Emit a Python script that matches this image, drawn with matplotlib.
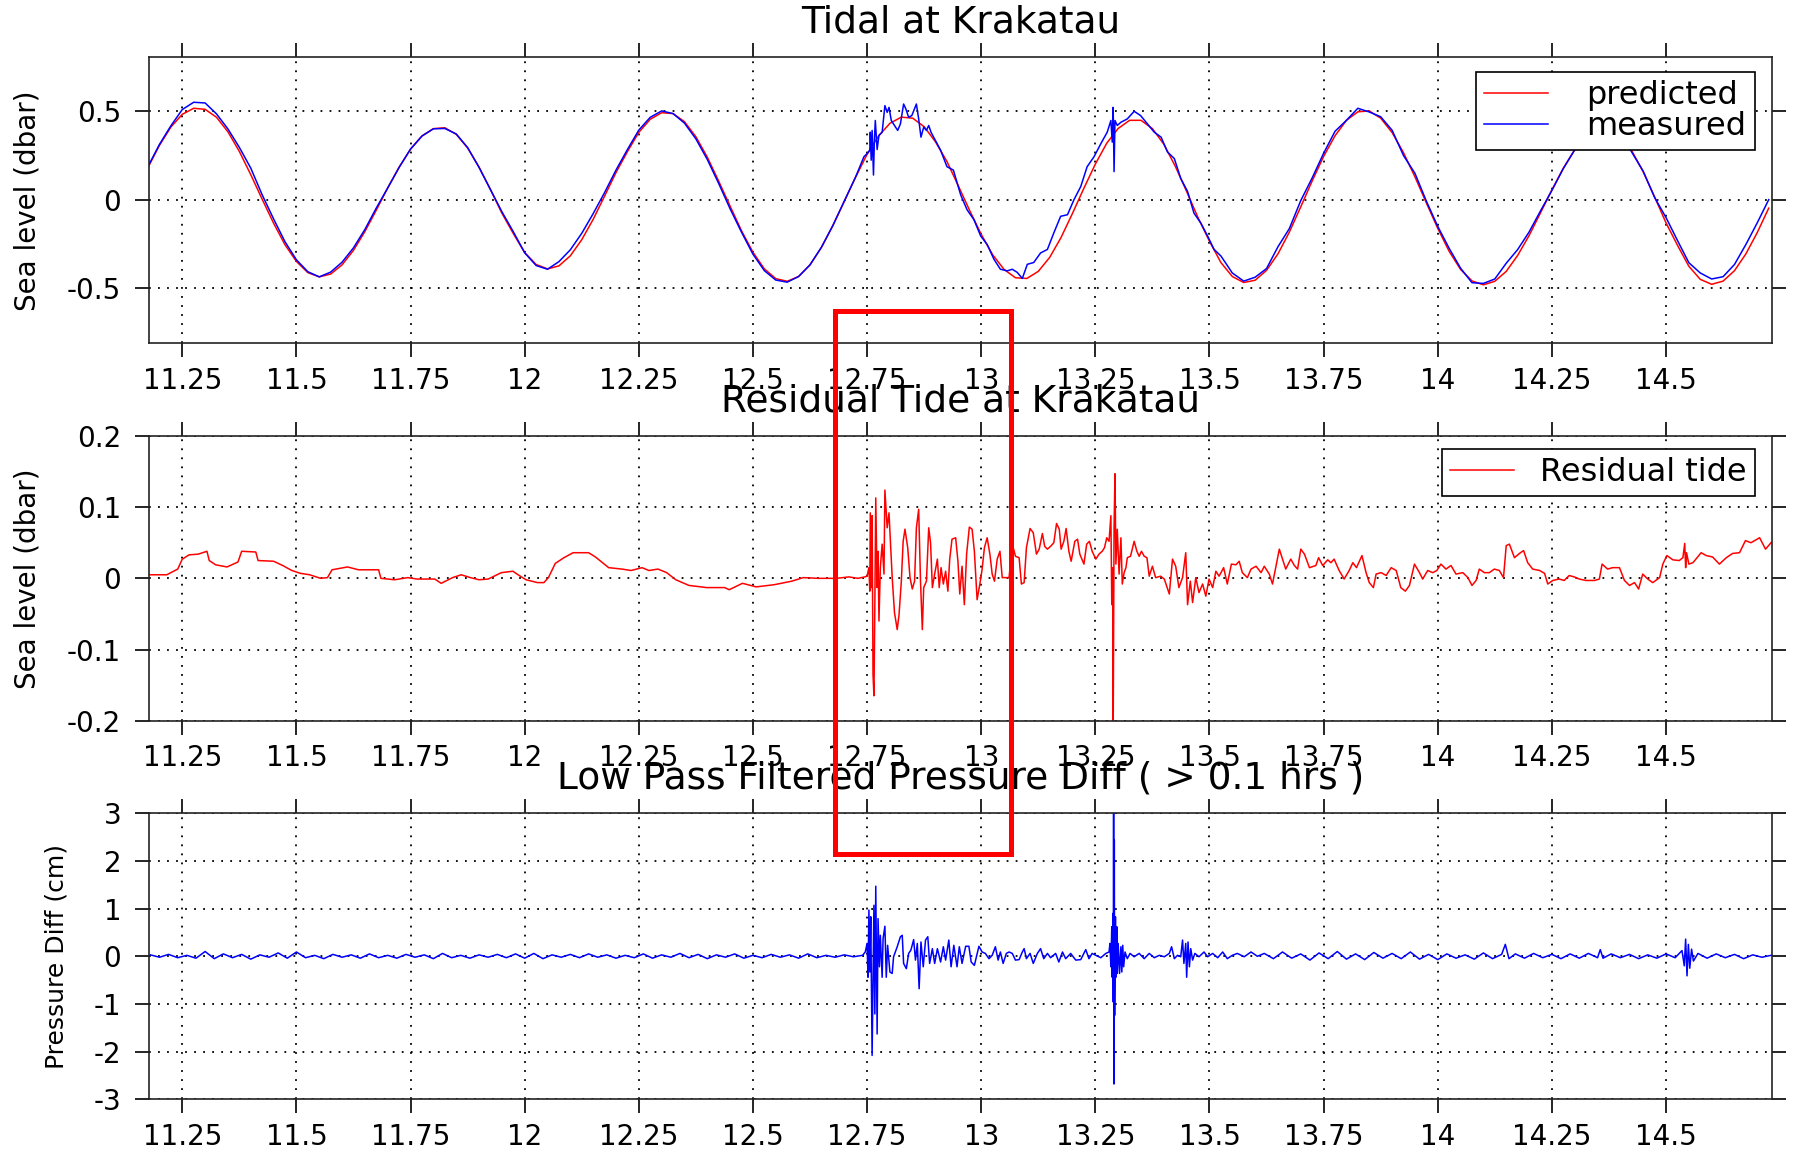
import numpy as np
import matplotlib.pyplot as plt
from matplotlib.patches import Rectangle
from matplotlib.ticker import FixedLocator, FuncFormatter

plt.rcParams['font.family'] = ['DejaVu Sans']
plt.rcParams['axes.unicode_minus'] = False

# ---- Tidal at Krakatau (days, dbar)
# predicted tide, regular 0.025 day grid starting at 11.175
pred_start, pred_step = 11.175, 0.025
pred_v = [0.184, 0.308, 0.411, 0.483, 0.517, 0.511, 0.466, 0.384, 0.273, 0.142,
          0.003, -0.132, -0.254, -0.348, -0.411, -0.435, -0.419, -0.367, -0.285, -0.179,
          -0.058, 0.068, 0.185, 0.286, 0.361, 0.402, 0.407, 0.370, 0.293, 0.185,
          0.058, -0.075, -0.190, -0.298, -0.365, -0.390, -0.373, -0.316, -0.225, -0.110,
          0.021, 0.154, 0.272, 0.381, 0.455, 0.492, 0.487, 0.441, 0.356, 0.241,
          0.105, -0.036, -0.175, -0.296, -0.390, -0.445, -0.460, -0.433, -0.367, -0.268,
          -0.146, -0.009, 0.129, 0.257, 0.360, 0.432, 0.467, 0.461, 0.413, 0.327,
          0.216, 0.078, -0.062, -0.195, -0.310, -0.393, -0.440, -0.444, -0.404, -0.325,
          -0.212, -0.076, 0.066, 0.202, 0.320, 0.403, 0.449, 0.449, 0.402, 0.314,
          0.190, 0.047, -0.101, -0.234, -0.354, -0.433, -0.467, -0.454, -0.398, -0.305,
          -0.182, -0.039, 0.107, 0.245, 0.362, 0.449, 0.497, 0.502, 0.461, 0.380,
          0.266, 0.130, -0.017, -0.161, -0.291, -0.393, -0.458, -0.480, -0.460, -0.404,
          -0.314, -0.202, -0.074, 0.056, 0.179, 0.283, 0.361, 0.403, 0.406, 0.363,
          0.277, 0.158, 0.017, -0.130, -0.256, -0.375, -0.449, -0.477, -0.459, -0.400,
          -0.305, -0.184, -0.047]

# measured tide: same grid before 12.74, dense during the events, grid again from 13.55
meas_a_start = 11.175
meas_a_v = [0.189, 0.313, 0.418, 0.510, 0.551, 0.547, 0.485, 0.400, 0.296, 0.179,
            0.028, -0.108, -0.237, -0.339, -0.406, -0.435, -0.408, -0.352, -0.271, -0.167,
            -0.046, 0.067, 0.183, 0.287, 0.360, 0.401, 0.403, 0.372, 0.295, 0.183,
            0.058, -0.067, -0.180, -0.299, -0.371, -0.392, -0.349, -0.282, -0.189, -0.078,
            0.041, 0.168, 0.284, 0.394, 0.466, 0.502, 0.487, 0.433, 0.344, 0.228,
            0.092, -0.051, -0.183, -0.307, -0.400, -0.453, -0.465, -0.433, -0.367, -0.268,
            -0.145, -0.008, 0.130]
meas_b_t = [12.743, 12.750, 12.756, 12.757, 12.759, 12.761, 12.764, 12.766, 12.768, 12.772,
            12.776, 12.783, 12.789, 12.794, 12.798, 12.803, 12.810, 12.817, 12.823, 12.830,
            12.835, 12.841, 12.848, 12.858, 12.863, 12.868, 12.874, 12.880, 12.885, 12.890,
            12.911, 12.925, 12.939, 12.955, 12.969, 12.984, 12.999, 13.013, 13.028, 13.042,
            13.057, 13.068, 13.079, 13.090, 13.101, 13.115, 13.130, 13.145, 13.159, 13.174,
            13.189, 13.203, 13.218, 13.232, 13.247, 13.262, 13.276, 13.284, 13.287, 13.289,
            13.291, 13.293, 13.298, 13.306, 13.320, 13.335, 13.349, 13.364, 13.379, 13.394,
            13.408, 13.423, 13.437, 13.452, 13.466, 13.481, 13.496, 13.510, 13.525]
meas_b_v = [0.243, 0.261, 0.280, 0.382, 0.224, 0.392, 0.140, 0.336, 0.448, 0.284,
            0.364, 0.382, 0.532, 0.494, 0.522, 0.448, 0.420, 0.392, 0.429, 0.541,
            0.513, 0.466, 0.476, 0.541, 0.457, 0.354, 0.410, 0.392, 0.420, 0.382,
            0.280, 0.187, 0.168, 0.028, -0.056, -0.112, -0.205, -0.252, -0.336, -0.392,
            -0.401, -0.392, -0.410, -0.444, -0.364, -0.354, -0.300, -0.280, -0.187, -0.093,
            -0.084, 0.000, 0.075, 0.187, 0.243, 0.317, 0.382, 0.448, 0.326, 0.522,
            0.159, 0.448, 0.420, 0.438, 0.457, 0.500, 0.476, 0.429, 0.382, 0.354,
            0.270, 0.233, 0.121, 0.047, -0.075, -0.131, -0.205, -0.280, -0.317]
meas_c_start = 13.55
meas_c_v = [-0.413, -0.459, -0.437, -0.388, -0.265, -0.162, -0.004, 0.124, 0.263, 0.387,
            0.449, 0.517, 0.496, 0.469, 0.393, 0.250, 0.150, -0.007, -0.150, -0.274,
            -0.386, -0.468, -0.472, -0.447, -0.358, -0.281, -0.182, -0.063, 0.053, 0.176,
            0.282, 0.358, 0.401, 0.419, 0.378, 0.269, 0.162, 0.013, -0.100, -0.229,
            -0.355, -0.413, -0.447, -0.434, -0.365, -0.252, -0.129, 0.001]

# ---- Residual tide (dbar)
resid_t = [11.177, 11.216, 11.240, 11.250, 11.265, 11.285, 11.304, 11.309, 11.323, 11.348,
           11.372, 11.380, 11.411, 11.416, 11.450, 11.470, 11.490, 11.509, 11.529, 11.553,
           11.568, 11.578, 11.612, 11.636, 11.680, 11.685, 11.715, 11.744, 11.764, 11.803,
           11.817, 11.842, 11.861, 11.881, 11.900, 11.920, 11.949, 11.974, 11.988, 12.003,
           12.028, 12.042, 12.052, 12.067, 12.086, 12.106, 12.140, 12.155, 12.184, 12.213,
           12.233, 12.257, 12.272, 12.292, 12.311, 12.331, 12.360, 12.399, 12.438, 12.448,
           12.477, 12.507, 12.546, 12.585, 12.610, 12.644, 12.683, 12.710, 12.730, 12.745,
           12.750, 12.754, 12.756, 12.757, 12.760, 12.761, 12.763, 12.765, 12.767, 12.769,
           12.772, 12.774, 12.776, 12.779, 12.783, 12.787, 12.789, 12.794, 12.798, 12.801,
           12.805, 12.810, 12.816, 12.820, 12.825, 12.829, 12.833, 12.839, 12.844, 12.849,
           12.854, 12.858, 12.863, 12.867, 12.871, 12.874, 12.880, 12.885, 12.889, 12.893,
           12.898, 12.904, 12.908, 12.912, 12.917, 12.922, 12.927, 12.931, 12.936, 12.944,
           12.949, 12.953, 12.958, 12.963, 12.968, 12.974, 12.980, 12.985, 12.991, 12.997,
           13.002, 13.007, 13.013, 13.019, 13.024, 13.029, 13.035, 13.041, 13.046, 13.053,
           13.061, 13.068, 13.075, 13.083, 13.088, 13.094, 13.099, 13.107, 13.114, 13.121,
           13.127, 13.134, 13.139, 13.145, 13.152, 13.159, 13.165, 13.171, 13.175, 13.181,
           13.186, 13.192, 13.197, 13.205, 13.211, 13.216, 13.225, 13.231, 13.237, 13.243,
           13.251, 13.258, 13.265, 13.270, 13.275, 13.280, 13.284, 13.286, 13.288, 13.289,
           13.291, 13.293, 13.295, 13.298, 13.302, 13.306, 13.309, 13.313, 13.317, 13.320,
           13.327, 13.335, 13.341, 13.346, 13.351, 13.357, 13.363, 13.368, 13.375, 13.382,
           13.393, 13.401, 13.412, 13.419, 13.426, 13.433, 13.441, 13.448, 13.452, 13.458,
           13.463, 13.470, 13.477, 13.485, 13.492, 13.499, 13.507, 13.514, 13.521, 13.531,
           13.539, 13.548, 13.558, 13.565, 13.572, 13.583, 13.591, 13.602, 13.613, 13.620,
           13.631, 13.638, 13.653, 13.660, 13.667, 13.678, 13.686, 13.693, 13.700, 13.708,
           13.719, 13.733, 13.739, 13.748, 13.759, 13.766, 13.773, 13.784, 13.795, 13.806,
           13.814, 13.822, 13.834, 13.843, 13.850, 13.859, 13.865, 13.876, 13.887, 13.898,
           13.909, 13.919, 13.929, 13.938, 13.949, 13.960, 13.967, 13.978, 13.989, 13.998,
           14.007, 14.018, 14.029, 14.040, 14.055, 14.066, 14.075, 14.084, 14.091, 14.102,
           14.113, 14.124, 14.135, 14.144, 14.150, 14.157, 14.168, 14.179, 14.188, 14.197,
           14.208, 14.223, 14.234, 14.241, 14.252, 14.266, 14.277, 14.288, 14.299, 14.310,
           14.325, 14.343, 14.354, 14.360, 14.372, 14.383, 14.398, 14.409, 14.420, 14.431,
           14.440, 14.449, 14.460, 14.471, 14.486, 14.493, 14.502, 14.515, 14.529, 14.537,
           14.541, 14.543, 14.545, 14.550, 14.559, 14.577, 14.588, 14.602, 14.617, 14.632,
           14.646, 14.661, 14.674, 14.686, 14.705, 14.718, 14.730]
resid_v = [0.005, 0.005, 0.013, 0.027, 0.033, 0.034, 0.038, 0.025, 0.019, 0.016,
           0.023, 0.038, 0.037, 0.025, 0.024, 0.018, 0.011, 0.007, 0.005, 0.000,
           0.001, 0.012, 0.016, 0.012, 0.012, 0.000, -0.002, 0.001, -0.001, -0.001,
           -0.007, 0.001, 0.005, 0.001, -0.002, -0.001, 0.008, 0.010, 0.004, -0.002,
           -0.006, -0.006, 0.001, 0.021, 0.029, 0.036, 0.036, 0.030, 0.015, 0.013,
           0.011, 0.015, 0.011, 0.013, 0.008, -0.002, -0.010, -0.013, -0.013, -0.016,
           -0.007, -0.012, -0.009, -0.004, 0.001, 0.000, 0.000, 0.002, 0.000, 0.002,
           0.003, 0.015, -0.018, 0.092, -0.013, 0.088, -0.135, -0.165, -0.037, 0.113,
           -0.013, 0.038, -0.060, 0.015, 0.048, 0.006, 0.124, 0.071, 0.092, 0.052,
           0.001, -0.048, -0.072, -0.051, -0.004, 0.052, 0.069, 0.043, 0.001, -0.015,
           -0.004, 0.071, 0.097, -0.004, -0.072, -0.013, -0.004, 0.071, 0.050, -0.013,
           0.006, 0.027, -0.013, 0.015, -0.008, 0.010, -0.018, 0.027, 0.055, 0.057,
           0.024, -0.022, 0.017, -0.037, 0.034, 0.072, 0.069, 0.038, -0.030, -0.008,
           0.013, 0.043, 0.057, 0.034, 0.006, -0.004, 0.027, 0.038, 0.001, 0.001,
           0.001, 0.048, 0.031, 0.029, -0.008, -0.006, 0.043, 0.070, 0.064, 0.034,
           0.041, 0.063, 0.045, 0.041, 0.045, 0.050, 0.077, 0.069, 0.041, 0.052,
           0.070, 0.038, 0.024, 0.052, 0.055, 0.034, 0.020, 0.048, 0.052, 0.038,
           0.027, 0.034, 0.038, 0.043, 0.057, 0.052, 0.088, -0.037, 0.015, -0.220,
           0.071, 0.147, 0.020, 0.069, 0.006, 0.057, -0.008, 0.008, 0.015, 0.029,
           0.031, 0.052, 0.038, 0.031, 0.038, 0.031, 0.029, 0.003, 0.017, 0.001,
           0.003, -0.001, -0.022, 0.027, 0.017, -0.013, 0.001, 0.036, -0.037, -0.004,
           -0.034, 0.001, -0.020, -0.008, -0.025, -0.001, -0.013, 0.010, 0.003, 0.015,
           -0.008, 0.020, 0.019, 0.024, 0.008, 0.001, 0.013, 0.017, 0.008, 0.017,
           0.006, -0.008, 0.041, 0.027, 0.013, 0.027, 0.018, 0.013, 0.041, 0.034,
           0.015, 0.018, 0.029, 0.018, 0.026, 0.022, 0.027, 0.011, -0.001, 0.011,
           0.022, 0.015, 0.032, 0.008, -0.006, -0.013, 0.006, 0.008, 0.004, 0.015,
           0.011, -0.013, -0.018, -0.010, 0.020, 0.008, -0.001, 0.011, 0.008, 0.011,
           0.020, 0.013, 0.018, 0.006, 0.008, 0.001, -0.010, -0.003, 0.013, 0.008,
           0.008, 0.013, 0.011, 0.001, 0.046, 0.048, 0.029, 0.035, 0.039, 0.022,
           0.013, 0.011, 0.007, -0.008, -0.003, -0.001, -0.003, 0.004, 0.002, -0.001,
           -0.003, -0.003, -0.001, 0.020, 0.013, 0.015, 0.015, -0.003, -0.010, -0.006,
           -0.015, 0.006, -0.001, -0.006, 0.001, 0.020, 0.032, 0.026, 0.025, 0.029,
           0.049, 0.015, 0.036, 0.020, 0.022, 0.036, 0.032, 0.030, 0.020, 0.029,
           0.035, 0.036, 0.053, 0.050, 0.057, 0.041, 0.050]

# ---- Low pass filtered pressure difference (cm)
press_a_start, press_a_step = 11.18, 0.02
press_a_v = [0.03, -0.02, 0.04, -0.03, 0.02, -0.04, 0.10, -0.05, 0.05, -0.03,
             0.04, -0.06, 0.03, -0.02, 0.07, -0.04, 0.09, -0.03, 0.02, -0.05,
             0.04, -0.02, 0.03, -0.04, 0.05, -0.03, 0.02, -0.04, 0.04, -0.02,
             0.03, -0.05, 0.06, -0.03, 0.02, -0.04, 0.03, -0.02, 0.04, -0.03,
             0.05, -0.04, 0.06, -0.05, 0.03, -0.02, 0.04, -0.03, 0.05, -0.02,
             0.03, -0.04, 0.02, -0.03, 0.05, -0.04, 0.03, -0.02, 0.06, -0.03,
             0.04, -0.05, 0.03, -0.02, 0.05, -0.04, 0.02, -0.03, 0.04, -0.02,
             0.03, -0.04, 0.05, -0.03, 0.02, -0.02, 0.03, -0.01, 0.02]
press_b_t = [12.746, 12.750, 12.752, 12.754, 12.756, 12.758, 12.761, 12.765, 12.767, 12.769,
             12.772, 12.774, 12.777, 12.779, 12.783, 12.785, 12.789, 12.792, 12.795, 12.800,
             12.805, 12.808, 12.816, 12.823, 12.827, 12.830, 12.836, 12.841, 12.846, 12.852,
             12.856, 12.860, 12.864, 12.868, 12.873, 12.878, 12.883, 12.887, 12.893, 12.898,
             12.904, 12.911, 12.917, 12.922, 12.929, 12.934, 12.940, 12.947, 12.952, 12.958,
             12.966, 12.973, 12.978, 12.985, 12.995, 13.002, 13.009, 13.017, 13.024, 13.031,
             13.037, 13.042, 13.048, 13.055, 13.061, 13.068, 13.075, 13.083, 13.090, 13.094,
             13.099, 13.107, 13.114, 13.123, 13.130, 13.137, 13.145, 13.152, 13.163, 13.170,
             13.178, 13.185, 13.196, 13.207, 13.218, 13.229, 13.236, 13.243, 13.251, 13.262,
             13.273, 13.280, 13.282, 13.284, 13.286, 13.287, 13.2885, 13.2893, 13.2900, 13.2908,
             13.2915, 13.2922, 13.294, 13.295, 13.297, 13.298, 13.300, 13.303, 13.306, 13.308,
             13.310, 13.312, 13.315, 13.320, 13.326, 13.335, 13.346, 13.357, 13.368, 13.379,
             13.390, 13.401, 13.412, 13.417, 13.423, 13.430, 13.437, 13.441, 13.444, 13.448,
             13.450, 13.453, 13.456, 13.459, 13.463, 13.468, 13.477, 13.488, 13.496, 13.507,
             13.518, 13.529, 13.539, 13.550, 13.561, 13.576, 13.591, 13.605]
press_b_v = [0.09, 0.27, -0.44, 0.97, -0.33, 0.83, -2.08, 1.07, -1.21, 1.47,
             -1.63, 0.79, -0.22, 0.44, -0.44, 0.37, 0.63, -0.44, 0.23, -0.33,
             -0.36, -0.01, 0.20, 0.41, 0.44, -0.15, -0.26, 0.06, 0.13, 0.35,
             -0.08, 0.27, -0.68, 0.30, -0.22, 0.34, 0.41, -0.15, 0.16, -0.15,
             0.16, -0.12, 0.20, -0.08, 0.34, -0.22, 0.23, -0.22, 0.20, -0.15,
             0.21, 0.21, -0.12, -0.19, 0.21, 0.09, 0.06, -0.05, 0.02, 0.20,
             -0.08, 0.09, -0.15, 0.06, 0.09, 0.06, -0.08, -0.07, 0.09, 0.16,
             -0.05, 0.06, -0.15, 0.06, 0.16, -0.05, 0.06, -0.03, 0.06, -0.12,
             0.09, -0.05, 0.06, -0.08, -0.07, 0.14, -0.05, 0.06, 0.02, -0.03,
             0.06, 0.09, 0.27, -0.22, 0.62, -0.44, 0.90, -0.96, 3.10, -2.68,
             2.44, -1.24, 0.83, -0.44, 0.62, -0.36, 0.27, -0.36, 0.20, -0.33,
             0.23, -0.22, 0.09, -0.05, 0.06, -0.01, 0.06, -0.05, 0.06, -0.03,
             0.02, -0.01, 0.06, 0.20, -0.05, 0.02, -0.01, 0.34, -0.15, 0.27,
             -0.44, 0.30, -0.22, 0.16, -0.08, 0.06, -0.01, 0.09, -0.01, 0.06,
             -0.03, 0.09, -0.05, 0.02, 0.06, -0.01, 0.09, 0.00]
press_c_t = [13.62, 13.64, 13.66, 13.68, 13.70, 13.72, 13.74, 13.76, 13.78, 13.80,
             13.82, 13.84, 13.86, 13.88, 13.90, 13.92, 13.94, 13.96, 13.98, 14.00,
             14.02, 14.04, 14.06, 14.08, 14.10, 14.12, 14.14, 14.148, 14.156, 14.17,
             14.19, 14.21, 14.23, 14.25, 14.27, 14.29, 14.31, 14.33, 14.35, 14.356,
             14.362, 14.38, 14.40, 14.42, 14.44, 14.46, 14.48, 14.50, 14.52, 14.535,
             14.540, 14.543, 14.546, 14.549, 14.552, 14.556, 14.560, 14.57, 14.59, 14.61,
             14.63, 14.65, 14.67, 14.69, 14.71, 14.73]
press_c_v = [0.06, -0.05, 0.09, -0.04, 0.05, -0.08, 0.07, -0.05, 0.10, -0.06,
             0.05, -0.07, 0.08, -0.04, 0.06, -0.05, 0.09, -0.06, 0.04, -0.07,
             0.05, -0.04, 0.03, -0.06, 0.07, -0.05, 0.04, 0.25, -0.05, 0.05,
             -0.04, 0.06, -0.03, 0.04, -0.05, 0.05, -0.04, 0.06, -0.03, 0.14,
             -0.04, 0.05, -0.03, 0.04, -0.05, 0.03, -0.04, 0.05, -0.03, 0.12,
             -0.20, 0.36, -0.41, 0.25, -0.25, 0.15, -0.10, 0.06, -0.04, 0.05,
             -0.03, 0.04, -0.05, 0.03, -0.02, 0.02]

# highlight box: x span in days, top edge on tide axis, bottom edge on pressure axis
box_days = [12.68, 13.065]
box_top_tide = -0.63
box_bottom_press = 2.15

xlim = (11.177, 14.733)
xticks = [11.25, 11.5, 11.75, 12, 12.25, 12.5, 12.75, 13, 13.25, 13.5, 13.75, 14, 14.25, 14.5]

pred_t = pred_start + pred_step * np.arange(len(pred_v))
meas_t = np.concatenate([meas_a_start + 0.025 * np.arange(len(meas_a_v)), meas_b_t,
                         meas_c_start + 0.025 * np.arange(len(meas_c_v))])
meas_v = np.concatenate([meas_a_v, meas_b_v, meas_c_v])
press_t = np.concatenate([press_a_start + press_a_step * np.arange(len(press_a_v)),
                          press_b_t, press_c_t])
press_v = np.concatenate([press_a_v, press_b_v, press_c_v])

fig = plt.figure(figsize=(17.97, 11.5), dpi=100)
ax1 = fig.add_axes([0.0829, 0.7015, 0.9034, 0.2487])
ax2 = fig.add_axes([0.0829, 0.3733, 0.9034, 0.2476])
ax3 = fig.add_axes([0.0829, 0.0441, 0.9034, 0.2487])

fmt = FuncFormatter(lambda v, pos: '%g' % round(v, 4))


def style(ax, ylim, yticks, title, ylabel, ylab_x, ylab_size):
    ax.set_xlim(*xlim)
    ax.set_ylim(*ylim)
    ax.xaxis.set_major_locator(FixedLocator(xticks))
    ax.yaxis.set_major_locator(FixedLocator(yticks))
    ax.xaxis.set_major_formatter(fmt)
    ax.yaxis.set_major_formatter(fmt)
    ax.tick_params(direction='out', length=10, width=1.2, top=True, right=True,
                   labelsize=20)
    ax.tick_params(axis='x', pad=7)
    ax.tick_params(axis='y', pad=10)
    ax.grid(True, color='k', linestyle=(0, (1, 4)), linewidth=1.3)
    for s in ax.spines.values():
        s.set_linewidth(1.2)
        s.set_color('#222222')
    ax.text(0.5, 1.12, title, transform=ax.transAxes, ha='center', va='center',
            fontsize=27)
    ax.set_ylabel(ylabel, fontsize=ylab_size, va='center')
    ax.yaxis.set_label_coords(ylab_x, 0.5)


def box_legend(ax, anchor, pad):
    leg = ax.legend(loc='upper right', bbox_to_anchor=anchor, borderaxespad=0,
                    fontsize=23, fancybox=False, edgecolor='k', framealpha=1,
                    handlelength=2.0, handletextpad=pad, labelspacing=0.0,
                    borderpad=0.25)
    leg.get_frame().set_linewidth(1.2)
    return leg


ax1.plot(pred_t, pred_v, color='red', lw=1.1, label='predicted')
ax1.plot(meas_t, meas_v, color='blue', lw=1.1, label='measured')
style(ax1, (-0.81, 0.805), [-0.5, 0, 0.5], 'Tidal at Krakatau', 'Sea level (dbar)',
      -0.0748, 20)
box_legend(ax1, (0.989, 0.948), 1.2)

ax2.plot(resid_t, resid_v, color='red', lw=1.1, label='Residual tide')
style(ax2, (-0.2, 0.2), [-0.2, -0.1, 0, 0.1, 0.2], 'Residual Tide at Krakatau',
      'Sea level (dbar)', -0.0748, 20)
box_legend(ax2, (0.989, 0.954), 0.8)

ax3.plot(press_t, press_v, color='blue', lw=1.1)
style(ax3, (-3, 3), [-3, -2, -1, 0, 1, 2, 3],
      'Low Pass Filtered Pressure Diff ( > 0.1 hrs )', 'Pressure Diff (cm)',
      -0.0567, 18)

# red box spanning from the tide panel down into the pressure panel
to_fig = fig.transFigure.inverted()
x0, y0 = to_fig.transform(ax3.transData.transform((box_days[0], box_bottom_press)))
x1, y1 = to_fig.transform(ax1.transData.transform((box_days[1], box_top_tide)))
fig.add_artist(Rectangle((x0, y0), x1 - x0, y1 - y0, transform=fig.transFigure,
                         fill=False, edgecolor='red', linewidth=3.6, clip_on=False,
                         zorder=10))

fig.savefig('out.png', dpi=100)
